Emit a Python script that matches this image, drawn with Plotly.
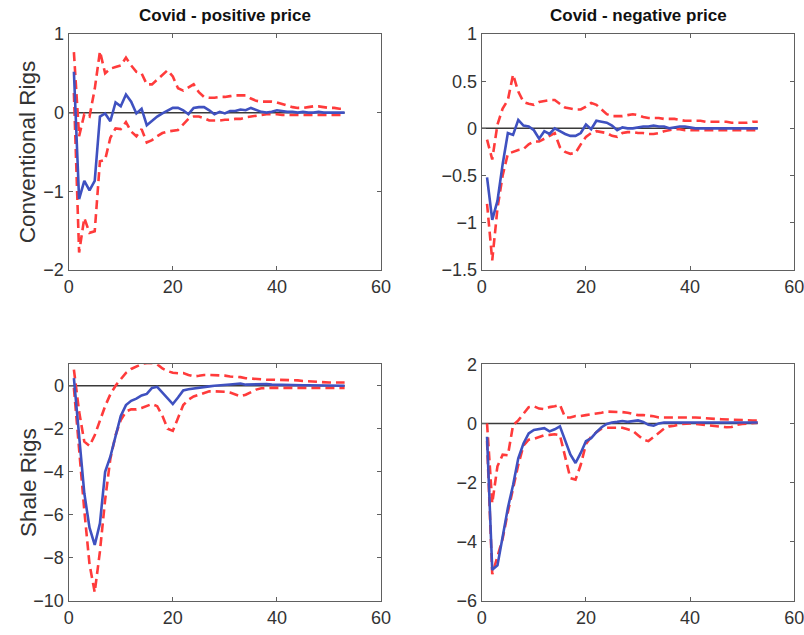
import plotly.graph_objects as go

horizon = list(range(1, 54))
zero_x = [0, 53]
zero_y = [0, 0]

titles = ["Covid - positive price", "Covid - negative price"]
row_labels = ["Conventional Rigs", "Shale Rigs"]

# Conventional rigs, positive price
cp_irf = [0.52, -1.10, -0.87, -0.99, -0.87, -0.05, -0.01, -0.11, 0.13, 0.08,
          0.23, 0.14, -0.01, 0.05, -0.16, -0.10, -0.05, -0.01, 0.02, 0.06,
          0.06, 0.03, -0.02, 0.06, 0.07, 0.07, 0.03, -0.02, 0.01, -0.01,
          0.02, 0.02, 0.04, 0.03, 0.06, 0.03, 0.01, 0.0, 0.01, 0.03,
          0.02, 0.01, 0.01, 0.0, 0.01, 0.0, 0.0, 0.01, 0.0, 0.0,
          0.0, 0.0, 0.0]
cp_up = [0.77, -0.30, -0.02, -0.05, 0.30, 0.78, 0.50, 0.56, 0.58, 0.60,
         0.70, 0.60, 0.52, 0.50, 0.36, 0.36, 0.42, 0.48, 0.54, 0.46,
         0.31, 0.28, 0.32, 0.36, 0.26, 0.20, 0.19, 0.19, 0.20, 0.20,
         0.21, 0.22, 0.22, 0.22, 0.18, 0.15, 0.14, 0.14, 0.14, 0.13,
         0.11, 0.09, 0.07, 0.06, 0.06, 0.07, 0.08, 0.08, 0.07, 0.06,
         0.06, 0.05, 0.05]
cp_lo = [0.25, -1.78, -1.34, -1.53, -1.51, -0.62, -0.60, -0.32, -0.20, -0.21,
         -0.12, -0.24, -0.30, -0.21, -0.38, -0.35, -0.30, -0.26, -0.24, -0.23,
         -0.22, -0.15, -0.08, -0.05, -0.05, -0.07, -0.10, -0.10, -0.10, -0.09,
         -0.09, -0.08, -0.08, -0.06, -0.05, -0.04, -0.03, -0.02, -0.02, -0.02,
         -0.03, -0.03, -0.03, -0.03, -0.03, -0.03, -0.03, -0.03, -0.03, -0.03,
         -0.03, -0.03, -0.03]

# Conventional rigs, negative price
cn_irf = [-0.52, -0.97, -0.77, -0.38, -0.05, -0.07, 0.09, 0.03, 0.02, -0.02,
          -0.11, -0.03, -0.06, 0.0, -0.03, -0.06, -0.08, -0.08, -0.05, 0.04,
          -0.01, 0.08, 0.07, 0.06, 0.03, -0.02, 0.01, 0.0, 0.0, 0.01,
          0.02, 0.02, 0.03, 0.02, 0.02, 0.0, 0.01, 0.02, 0.02, 0.01,
          0.0, 0.0, 0.0, 0.0, 0.0, 0.0, 0.0, 0.0, 0.0, 0.0,
          0.0, 0.0, 0.0]
cn_up = [-0.12, -0.33, 0.04, 0.21, 0.30, 0.57, 0.39, 0.28, 0.26, 0.25,
         0.28, 0.29, 0.30, 0.30, 0.26, 0.22, 0.21, 0.20, 0.20, 0.23,
         0.27, 0.25, 0.20, 0.15, 0.13, 0.13, 0.13, 0.14, 0.15, 0.14,
         0.12, 0.11, 0.11, 0.11, 0.10, 0.10, 0.10, 0.09, 0.08, 0.08,
         0.08, 0.08, 0.07, 0.07, 0.07, 0.07, 0.07, 0.06, 0.06, 0.06,
         0.06, 0.07, 0.07]
cn_lo = [-0.80, -1.40, -0.85, -0.50, -0.27, -0.25, -0.23, -0.22, -0.17, -0.14,
         -0.14, -0.11, -0.08, -0.05, -0.20, -0.25, -0.27, -0.26, -0.17, -0.09,
         -0.05, -0.03, -0.04, -0.05, -0.08, -0.09, -0.05, -0.04, -0.04, -0.05,
         -0.05, -0.06, -0.06, -0.05, -0.03, -0.02, -0.01, -0.01, -0.02, -0.02,
         -0.02, -0.02, -0.02, -0.02, -0.02, -0.02, -0.02, -0.02, -0.02, -0.02,
         -0.02, -0.02, -0.02]

# Shale rigs, positive price
sp_irf = [0.35, -2.4, -5.0, -6.6, -7.4, -6.4, -4.0, -3.3, -2.3, -1.4,
          -0.9, -0.7, -0.6, -0.45, -0.38, -0.10, -0.05, -0.30, -0.60, -0.85,
          -0.55, -0.22, -0.16, -0.12, -0.08, -0.06, -0.03, 0.0, 0.03, 0.03,
          0.06, 0.08, 0.10, 0.05, 0.06, 0.08, 0.10, 0.08, 0.05, 0.04,
          0.03, 0.03, 0.02, 0.02, 0.02, 0.02, 0.02, 0.01, 0.01, 0.01,
          0.01, 0.0, 0.0]
sp_up = [0.75, -1.2, -2.6, -2.8, -2.3, -1.6, -0.95, -0.40, 0.0, 0.30,
         0.60, 0.78, 0.90, 1.00, 1.05, 1.05, 1.00, 0.80, 0.68, 0.60,
         0.58, 0.59, 0.50, 0.43, 0.46, 0.50, 0.50, 0.50, 0.50, 0.47,
         0.43, 0.42, 0.40, 0.35, 0.33, 0.30, 0.30, 0.28, 0.28, 0.28,
         0.28, 0.28, 0.27, 0.25, 0.22, 0.20, 0.20, 0.18, 0.16, 0.15,
         0.15, 0.15, 0.15]
sp_lo = [-0.1, -3.0, -5.8, -8.3, -9.6, -7.7, -5.3, -3.4, -2.3, -1.6,
         -1.2, -1.1, -1.1, -1.03, -0.95, -0.85, -0.95, -1.4, -2.0, -2.1,
         -1.5, -0.9, -0.65, -0.5, -0.42, -0.33, -0.26, -0.26, -0.26, -0.28,
         -0.32, -0.40, -0.49, -0.42, -0.30, -0.18, -0.12, -0.10, -0.10, -0.10,
         -0.10, -0.10, -0.11, -0.12, -0.12, -0.13, -0.13, -0.13, -0.13, -0.12,
         -0.11, -0.10, -0.10]

# Shale rigs, negative price
sn_irf = [-0.45, -4.95, -4.8, -3.76, -2.86, -2.08, -1.18, -0.68, -0.34, -0.22,
          -0.20, -0.16, -0.27, -0.20, -0.10, -0.55, -1.05, -1.34, -1.0, -0.6,
          -0.5, -0.3, -0.13, -0.02, 0.03, 0.05, 0.08, 0.05, 0.08, 0.10,
          0.05, -0.05, -0.08, 0.0, 0.03, 0.03, 0.03, 0.03, 0.03, 0.03,
          0.03, 0.03, 0.03, 0.03, 0.03, 0.03, 0.03, 0.03, 0.03, 0.03,
          0.03, 0.03, 0.03]
sn_up = [0.0, -2.7, -1.45, -1.06, -1.08, -0.06, 0.10, 0.33, 0.55, 0.58,
         0.50, 0.48, 0.55, 0.58, 0.63, 0.20, 0.20, 0.25, 0.25, 0.28,
         0.30, 0.32, 0.36, 0.40, 0.40, 0.40, 0.38, 0.36, 0.32, 0.28,
         0.28, 0.27, 0.24, 0.20, 0.20, 0.21, 0.22, 0.22, 0.21, 0.20,
         0.20, 0.19, 0.17, 0.15, 0.15, 0.14, 0.13, 0.12, 0.11, 0.10,
         0.10, 0.10, 0.10]
sn_lo = [-0.6, -5.1, -4.5, -3.9, -3.0, -2.2, -1.4, -0.75, -0.55, -0.52,
         -0.45, -0.40, -0.39, -0.37, -0.40, -1.1, -1.85, -1.9, -1.4, -0.7,
         -0.45, -0.30, -0.18, -0.15, -0.15, -0.14, -0.15, -0.20, -0.25, -0.40,
         -0.55, -0.60, -0.45, -0.30, -0.18, -0.10, -0.08, -0.03, -0.02, 0.0,
         -0.02, -0.04, -0.06, -0.08, -0.10, -0.12, -0.13, -0.12, -0.05, -0.02,
         -0.01, 0.0, 0.02]

panels = [
    (cp_irf, cp_up, cp_lo, [-2, 1], 1),
    (cn_irf, cn_up, cn_lo, [-1.5, 1], 0.5),
    (sp_irf, sp_up, sp_lo, [-10, 1], 2),
    (sn_irf, sn_up, sn_lo, [-6, 2], 2),
]

# Observed page rendering: 8px body margin and a ~0.974 overall shrink in the
# photograph.  Target screen positions are converted to figure pixels.
PAD = 8
K = 1 / 0.974
W = round(804 * K - 2 * PAD)
H = round(635 * K - 2 * PAD)


def fx(t):
    return (t * K - PAD) / W


def fy(t):
    return 1 - (t * K - PAD) / H


x_doms = [[fx(71), fx(381)], [fx(481), fx(791)]]
y_doms = [[fy(269), fy(32)], [fy(602), fy(364)]]

BLUE = "#3f51c0"
RED = "#ff3b3b"
FRAME = "#606060"
TXT = "#333333"
FONT = "Liberation Sans, Arial, sans-serif"

fig = go.Figure()
layout = {}
for i, (irf, up, lo, yr, dt) in enumerate(panels):
    r, c = divmod(i, 2)
    n = i + 1
    xa = "x" if n == 1 else f"x{n}"
    ya = "y" if n == 1 else f"y{n}"
    fig.add_trace(go.Scatter(x=zero_x, y=zero_y, mode="lines",
                             line=dict(color="#3a3a3a", width=1.5),
                             xaxis=xa, yaxis=ya, showlegend=False, hoverinfo="skip"))
    fig.add_trace(go.Scatter(x=horizon, y=up, mode="lines",
                             line=dict(color=RED, width=2.6, dash="9px,5px"),
                             xaxis=xa, yaxis=ya, showlegend=False))
    fig.add_trace(go.Scatter(x=horizon, y=lo, mode="lines",
                             line=dict(color=RED, width=2.6, dash="9px,5px"),
                             xaxis=xa, yaxis=ya, showlegend=False))
    fig.add_trace(go.Scatter(x=horizon, y=irf, mode="lines",
                             line=dict(color=BLUE, width=2.6),
                             xaxis=xa, yaxis=ya, showlegend=False))
    common = dict(showgrid=False, zeroline=False, showline=True, linecolor=FRAME,
                  linewidth=1.4, mirror="allticks", ticks="inside", ticklen=4,
                  tickcolor=FRAME, tickfont=dict(family=FONT, size=18, color=TXT))
    layout["xaxis" if n == 1 else f"xaxis{n}"] = dict(
        domain=x_doms[c], range=[0, 60], tickvals=[0, 20, 40, 60],
        anchor=ya, **common)
    layout["yaxis" if n == 1 else f"yaxis{n}"] = dict(
        domain=y_doms[r], range=yr, dtick=dt, tick0=yr[0],
        anchor=xa, **common)

annotations = []
for c, t in enumerate(titles):
    annotations.append(dict(text=f"<b>{t}</b>", x=sum(x_doms[c]) / 2,
                            y=fy(13),
                            xref="paper", yref="paper", showarrow=False,
                            xanchor="center", yanchor="middle",
                            font=dict(family=FONT, size=17, color="#111111")))
for r, t in enumerate(row_labels):
    annotations.append(dict(text=t, x=fx(31), y=sum(y_doms[r]) / 2,
                            xref="paper", yref="paper", showarrow=False,
                            textangle=-90, xanchor="center", yanchor="middle",
                            font=dict(family=FONT, size=22.5, color=TXT)))

fig.update_layout(width=W, height=H, margin=dict(l=0, r=0, t=0, b=0),
                  plot_bgcolor="white", paper_bgcolor="white",
                  annotations=annotations, **layout)
fig.write_html("out.html")
